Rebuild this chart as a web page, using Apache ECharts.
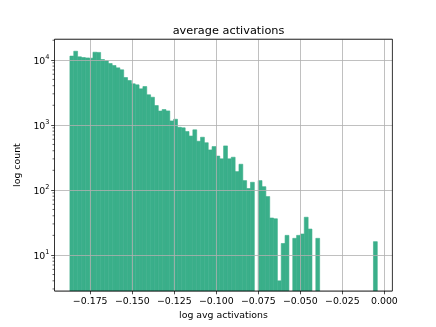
<!DOCTYPE html>
<html><head><meta charset="utf-8">
<script src="https://cdn.jsdelivr.net/npm/echarts@6/dist/echarts.min.js"></script>
<style>html,body{margin:0;padding:0;background:#fff}#c{width:436px;height:327px}</style>
</head><body><div id="c"></div>
<script>
const titleText = 'average activations';
const xName = 'log avg activations';
const yName = 'log count';
const binStart = -0.18708;
const binWidth = 0.0022856;
const counts = [11400, 13550, 11100, 10850, 10700, 10600, 13100, 13000, 10100, 9650,
  8770, 8170, 7530, 7020, 5340, 4810, 4270, 4120, 3580, 3880,
  2900, 2660, 1980, 1630, 1720, 1640, 1150, 1220, 918, 899,
  789, 673, 838, 560, 645, 531, 412, 464, 331, 300,
  475, 300, 318, 191, 248, 139, 105, 131, 0, 139,
  112, 79, 37, 36, 4, 15, 20, 0, 18, 20,
  21, 38, 25, 0, 18, 0, 0, 0, 0, 0,
  0, 0, 0, 0, 0, 0, 0, 0, 0, 16];
const xTicks = [-0.175, -0.15, -0.125, -0.1, -0.075, -0.05, -0.025, 0];
const yMinorTicks = [3,4,5,6,7,8,9,20,30,40,50,60,70,80,90,200,300,400,500,600,700,800,900,2000,3000,4000,5000,6000,7000,8000,9000,20000];
const xMin = -0.19625, xMax = 0.00476, yMin = 2.79, yMax = 20750;
const barColor = '#3aaf8a';
const font = 'DejaVu Sans';

const barData = counts.map((c, i) => [binStart + i * binWidth, binStart + (i + 1) * binWidth, c]).filter(d => d[2] > 0);

const chart = echarts.init(document.getElementById('c'), null, {renderer: 'canvas'});
chart.setOption({
  animation: false,
  backgroundColor: '#fff',
  title: {
    text: titleText, left: 223.5, top: 21, textAlign: 'center',
    textStyle: {fontFamily: font, fontSize: 11.3, fontWeight: 'normal', color: '#000'}
  },
  grid: {left: 54.5, right: 43.6, top: 39.2, bottom: 36, show: true, borderColor: '#000', borderWidth: 0.8, z: 10, outerBoundsMode: 'none', containLabel: false},
  xAxis: {
    type: 'value', min: xMin, max: xMax, z: 5,
    name: xName, nameLocation: 'middle', nameGap: 17,
    nameTextStyle: {fontFamily: font, fontSize: 9.4, color: '#000'},
    axisLine: {show: false, onZero: false},
    axisTick: {show: true, length: 3.3, customValues: xTicks, lineStyle: {color: '#000', width: 0.7}},
    axisLabel: {customValues: xTicks, margin: 6, fontFamily: font, fontSize: 9.4, color: '#000',
      formatter: v => (v < 0 ? '\u2212' : '') + Math.abs(v).toFixed(3)},
    splitLine: {show: true, lineStyle: {color: '#b0b0b0', width: 0.8}}
  },
  yAxis: {
    type: 'log', logBase: 10, min: yMin, max: yMax, z: 5,
    name: yName, nameLocation: 'middle', nameGap: 21,
    nameTextStyle: {fontFamily: font, fontSize: 9.4, color: '#000'},
    axisLine: {show: false, onZero: false},
    axisTick: {show: true, length: 3.3, lineStyle: {color: '#000', width: 0.7}},
    axisLabel: {showMinLabel: false, showMaxLabel: false, margin: 5, fontFamily: font, color: '#000',
      formatter: v => '{b|10}{s|' + Math.round(Math.log10(v)) + '}',
      rich: {
        b: {fontFamily: font, fontSize: 9.4, color: '#000', lineHeight: 13, verticalAlign: 'bottom'},
        s: {fontFamily: font, fontSize: 6.6, color: '#000', lineHeight: 13, verticalAlign: 'top'}
      }},
    splitLine: {show: true, lineStyle: {color: '#b0b0b0', width: 0.8}}
  },
  series: [
    {
      type: 'custom', z: 2, data: barData, encode: {x: [0, 1], y: 2},
      renderItem: (params, api) => {
        const c = api.value(2);
        const p0 = api.coord([api.value(0), c]);
        const p1 = api.coord([api.value(1), c]);
        const cs = params.coordSys;
        return {type: 'rect', shape: {x: p0[0], y: p0[1], width: p1[0] - p0[0], height: cs.y + cs.height - p0[1]},
          style: {fill: barColor, stroke: barColor, lineWidth: 0.6}};
      }
    },
    {
      type: 'custom', z: 12, clip: false, data: yMinorTicks.map(v => [xMin, v]), encode: {x: 0, y: 1},
      renderItem: (params, api) => {
        const p = api.coord([api.value(0), api.value(1)]);
        const x0 = params.coordSys.x;
        return {type: 'line', shape: {x1: x0 - 2, y1: p[1], x2: x0, y2: p[1]}, style: {stroke: '#000', lineWidth: 0.6}};
      }
    }
  ]
});
</script></body></html>
